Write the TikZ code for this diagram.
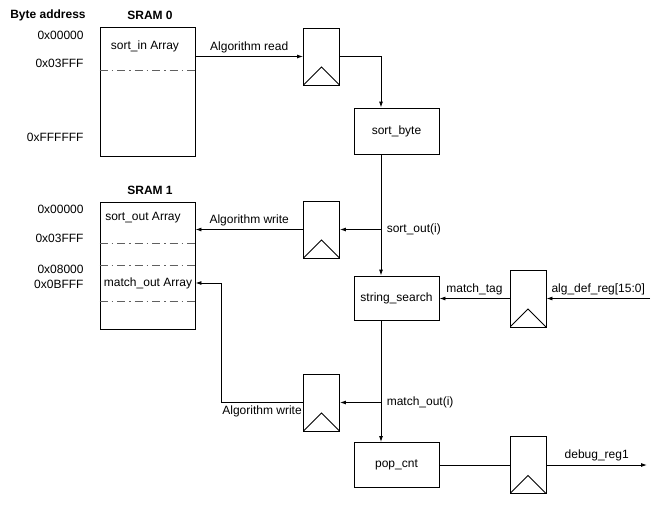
\documentclass[tikz,border=0pt]{standalone}
\usepackage{fontspec}
\setmainfont{Liberation Sans}
\usepackage{tikz}
\usetikzlibrary{positioning,arrows.meta,calc}
\definecolor{ngray}{HTML}{606060}

\tikzset{
 blk/.style={draw, minimum width=85pt, minimum height=45pt, inner sep=0pt},
 mem/.style={draw, minimum width=95pt, inner sep=0pt},
 reg/.style={draw, minimum width=36pt, minimum height=57pt, inner sep=0pt,
  path picture={\draw (path picture bounding box.south west) -- ([yshift=18pt]path picture bounding box.south) -- (path picture bounding box.south east);}},
 sep/.style={ngray, dash pattern=on 8pt off 4pt on 1.5pt off 4pt},
 sig/.style={-{Latex[length=6pt,width=4pt]}},
 ttl/.style={font=\fontsize{12}{14}\selectfont\bfseries}
}

\begin{document}
\begin{tikzpicture}[x=1pt, y=-1pt, line width=0.9pt, font=\fontsize{12}{14}\selectfont]
 \useasboundingbox (0,0) rectangle (658,504);
 % memories
 \node[ttl] (hdr) at (48,15) {Byte address};
 \node[ttl] (sram0t) at (150,15) {SRAM 0};
 \node[ttl] (sram1t) at (150,190) {SRAM 1};
 \node[mem, minimum height=129pt] (sram0) at (147.5,91.5) {};
 \node[mem, minimum height=127pt] (sram1) at (147.5,265.5) {};
 \foreach \y in {70} \draw[sep] (sram0.west |- 0,\y) -- (sram0.east |- 0,\y);
 \foreach \y in {243,265,301} \draw[sep] (sram1.west |- 0,\y) -- (sram1.east |- 0,\y);
 \foreach \y/\t in {35/0x00000,63/0x03FFF,137/0xFFFFFF,209/0x00000,238/0x03FFF,269/0x08000,284/0x0BFFF}
  \node[anchor=east, inner sep=0pt] (adr\y) at (84,\y) {\t};
 \node (sortin) at (145,46) {sort\_in Array};
 \node (sortout) at (143,218) {sort\_out Array};
 \node (matchout) at (148,283) {match\_out Array};
 % registers and blocks
 \node[reg] (rin) at (321.5,56.5) {};
 \node[reg] (rsort) at (321.5,229.5) {};
 \node[reg] (rtag) at (528,298.5) {};
 \node[reg] (rmatch) at (321.5,402.5) {};
 \node[reg] (rdbg) at (528,465) {};
 \node[blk, minimum height=46pt] (sortbyte) at (396.5,131) {sort\_byte};
 \node[blk, minimum height=44pt] (strsearch) at (396.5,298) {string\_search};
 \node[blk] (popcnt) at (396.5,465) {pop\_cnt};
 \coordinate (tapa) at (381,229.5);
 \coordinate (tapb) at (381,402.5);
 \coordinate (bend) at (221,402.5);
 \coordinate (algin) at (650,298.5);
 \coordinate (dbgout) at (647,465);
 % connections
 \draw[sig] (sram0.east |- rin.west) -- node[above] {Algorithm read} (rin.west);
 \draw[sig] (rin.east) -| (sortbyte.north -| tapa);
 \draw[sig] (sortbyte.south -| tapa) -- (strsearch.north -| tapa);
 \draw[sig] (tapa) node[right=2pt] {sort\_out(i)} -- (rsort.east);
 \draw[sig] (rsort.west) -- node[above] {Algorithm write} (sram1.east |- rsort.west);
 \draw[sig] (rtag.west) -- node[above] {match\_tag} (strsearch.east |- rtag.west);
 \draw[sig] (algin) -- node[above] {alg\_def\_reg[15:0]} (rtag.east);
 \draw[sig] (strsearch.south -| tapb) -- (popcnt.north -| tapb);
 \draw[sig] (tapb) node[right=2pt] {match\_out(i)} -- (rmatch.east);
 \draw[sig] (rmatch.west) -- node[below] {Algorithm write} (bend) |- (sram1.east |- matchout);
 \draw (popcnt.east) -- (rdbg.west);
 \draw[sig] (rdbg.east) -- node[above] {debug\_reg1} (dbgout);
\end{tikzpicture}
\end{document}
